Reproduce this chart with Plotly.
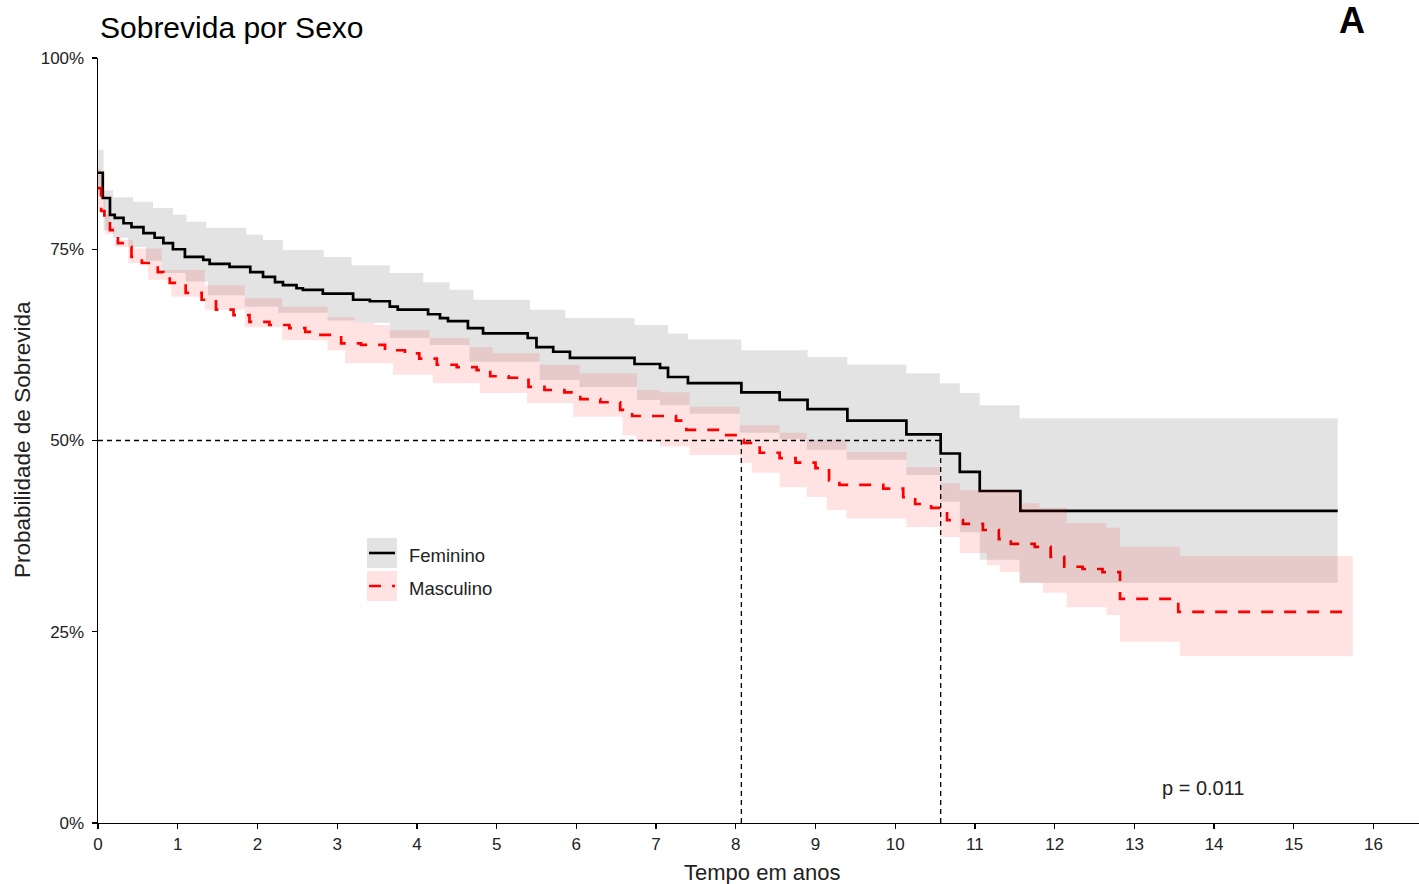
import plotly.graph_objects as go

# ---------------- data ----------------
# Kaplan-Meier step curves: start time of each step (years) and survival (%)
fem_t = [0, 0.06, 0.15, 0.21, 0.32, 0.42, 0.57, 0.71, 0.82, 0.94, 1.09, 1.32, 1.40, 1.65,
         1.91, 2.07, 2.22, 2.32, 2.49, 2.57, 2.82, 3.20, 3.41, 3.66, 3.76, 4.14, 4.29, 4.39,
         4.64, 4.83, 5.39, 5.50, 5.71, 5.92, 6.73, 7.05, 7.15, 7.40, 8.07, 8.55, 8.90, 9.40,
         10.14, 10.57, 10.81, 11.06, 11.57, 15.55]
fem_s = [85.0, 81.7, 79.5, 79.1, 78.4, 77.9, 77.1, 76.5, 75.8, 75.0, 74.0, 73.6, 73.1, 72.7,
         72.0, 71.4, 70.7, 70.3, 69.9, 69.7, 69.2, 68.4, 68.2, 67.5, 67.1, 66.5, 66.0, 65.6,
         64.7, 64.0, 63.4, 62.2, 61.6, 60.8, 60.0, 59.5, 58.3, 57.5, 56.3, 55.3, 54.1, 52.6,
         50.8, 48.3, 45.9, 43.4, 40.8, 40.8]

mas_t = [0, 0.04, 0.08, 0.15, 0.20, 0.25, 0.35, 0.42, 0.55, 0.75, 0.82, 0.90, 1.10, 1.30,
         1.48, 1.70, 1.90, 2.15, 2.40, 2.60, 2.75, 3.05, 3.30, 3.60, 3.85, 4.03, 4.25, 4.50,
         4.75, 4.92, 5.15, 5.40, 5.60, 5.85, 6.05, 6.30, 6.55, 6.70, 7.25, 7.38, 7.85, 8.02,
         8.10, 8.30, 8.55, 8.75, 9.00, 9.17, 9.30, 9.85, 10.10, 10.25, 10.45, 10.65, 10.85,
         11.10, 11.30, 11.45, 11.75, 11.95, 12.12, 12.35, 12.60, 12.82, 13.55, 15.67]
mas_s = [83.0, 80.0, 79.1, 77.5, 77.1, 75.8, 75.3, 74.0, 73.2, 72.0, 71.6, 70.6, 69.3, 68.4,
         67.1, 66.4, 65.5, 65.1, 64.7, 64.2, 63.8, 62.7, 62.5, 61.8, 61.4, 60.7, 59.9, 59.6,
         59.2, 58.4, 58.2, 57.0, 56.6, 56.3, 55.4, 55.0, 54.0, 53.2, 52.6, 51.4, 50.7, 50.1,
         49.7, 48.4, 47.7, 47.1, 46.4, 44.8, 44.2, 43.7, 42.6, 41.7, 41.2, 39.6, 39.1,
         38.3, 37.1, 36.5, 36.1, 34.8, 33.5, 33.2, 32.8, 29.3, 27.6, 27.6]

# 95% confidence bands
fem_up_t = [0, 0.07, 0.19, 0.44, 0.69, 0.94, 1.11, 1.36, 1.86, 2.07, 2.32, 2.83, 3.18, 3.66,
            4.08, 4.41, 4.71, 5.42, 5.86, 6.73, 7.15, 7.40, 8.07, 8.90, 9.40, 10.14, 10.56,
            10.81, 11.06, 11.56, 15.55]
fem_up_s = [88.0, 82.7, 81.8, 81.2, 80.4, 79.5, 78.6, 77.8, 76.9, 76.2, 74.9, 74.0, 72.9, 71.9,
            70.7, 69.7, 68.4, 67.1, 66.0, 65.1, 64.0, 63.2, 61.8, 60.9, 59.9, 58.8, 57.5,
            56.2, 54.6, 52.9, 52.9]
fem_lo_t = [0, 0.07, 0.19, 0.38, 0.60, 0.80, 1.10, 1.38, 1.84, 2.26, 2.88, 3.22, 3.66, 4.16,
            4.66, 5.54, 6.04, 6.76, 7.05, 7.42, 8.05, 8.55, 8.89, 9.39, 10.14, 10.56, 10.81,
            11.06, 11.56, 15.55]
fem_lo_s = [82.0, 77.5, 76.5, 75.3, 73.5, 71.9, 70.8, 69.0, 67.5, 66.7, 65.7, 65.4, 63.4, 62.5,
            60.3, 57.9, 57.0, 55.3, 54.6, 53.5, 51.0, 50.2, 48.8, 47.5, 45.5, 42.0, 38.0,
            34.4, 31.4, 31.4]

mas_up_t = [0, 0.04, 0.09, 0.15, 0.21, 0.44, 0.80, 1.34, 1.84, 2.31, 2.88, 3.22, 3.46, 3.66,
            4.16, 4.66, 4.95, 5.54, 6.04, 6.76, 7.05, 7.42, 8.05, 8.55, 8.89, 9.39, 10.14,
            10.56, 10.81, 11.56, 11.81, 12.15, 12.65, 12.82, 13.57, 15.74]
mas_up_s = [85.5, 82.0, 79.5, 77.9, 76.2, 75.1, 72.3, 70.3, 68.6, 67.5, 66.1, 65.4, 65.1, 64.4,
            63.4, 62.2, 61.4, 59.9, 58.8, 56.6, 56.3, 54.4, 52.0, 51.0, 50.1, 48.5, 46.5,
            44.4, 43.5, 41.8, 41.2, 39.2, 38.6, 36.1, 34.9, 34.9]
mas_lo_t = [0, 0.09, 0.21, 0.38, 0.63, 0.92, 1.34, 1.84, 2.31, 2.88, 3.10, 3.70, 4.20, 4.79,
            5.38, 5.96, 6.58, 6.75, 7.05, 7.42, 8.05, 8.20, 8.55, 8.89, 9.14, 9.39, 10.14,
            10.56, 10.81, 11.15, 11.31, 11.56, 11.85, 12.15, 12.65, 12.82, 13.57, 15.74]
mas_lo_s = [80.0, 77.0, 75.3, 73.2, 71.0, 68.8, 67.1, 64.8, 63.1, 61.8, 60.1, 58.6, 57.5, 56.2,
            54.9, 53.1, 50.7, 49.8, 49.2, 48.1, 47.1, 45.8, 43.9, 42.6, 40.9, 39.8, 38.7,
            37.4, 35.3, 33.7, 32.8, 31.4, 30.1, 28.2, 27.2, 23.7, 21.8, 21.8]

# median survival times (years) and the 50% reference level
medians = [8.07, 10.57]
median_level = 50

groups = ["Feminino", "Masculino"]
p_value_text = "p = 0.011"
x_ticks = list(range(0, 17))
y_ticks = [0, 25, 50, 75, 100]
y_tick_labels = ["0%", "25%", "50%", "75%", "100%"]

# ---------------- figure ----------------
FONT = "Liberation Sans, Arial, sans-serif"
TXT = "#222222"
fig = go.Figure()

# survival step lines
fig.add_trace(go.Scatter(x=fem_t, y=fem_s, mode="lines", line=dict(color="black", width=2.7, shape="hv"),
                         name=groups[0], showlegend=False, hoverinfo="skip"))
fig.add_trace(go.Scatter(x=mas_t, y=mas_s, mode="lines",
                         line=dict(color="#ff0000", width=2.7, shape="hv", dash="12px,11px"),
                         name=groups[1], showlegend=False, hoverinfo="skip"))


def step_polygon(up_t, up_s, lo_t, lo_s):
    xs, ys = [], []
    for i in range(len(up_t)):
        xs.append(up_t[i]); ys.append(up_s[i])
        if i + 1 < len(up_t):
            xs.append(up_t[i + 1]); ys.append(up_s[i])
    lx, ly = [], []
    for i in range(len(lo_t)):
        lx.append(lo_t[i]); ly.append(lo_s[i])
        if i + 1 < len(lo_t):
            lx.append(lo_t[i + 1]); ly.append(lo_s[i])
    return xs + lx[::-1], ys + ly[::-1]


# confidence ribbons drawn over the lines (semi-transparent)
for up_t, up_s, lo_t, lo_s, col in [
    (fem_up_t, fem_up_s, fem_lo_t, fem_lo_s, "rgba(0,0,0,0.11)"),
    (mas_up_t, mas_up_s, mas_lo_t, mas_lo_s, "rgba(255,0,0,0.11)"),
]:
    xs, ys = step_polygon(up_t, up_s, lo_t, lo_s)
    fig.add_trace(go.Scatter(x=xs, y=ys, mode="lines", fill="toself", fillcolor=col,
                             line=dict(width=0, color=col), showlegend=False, hoverinfo="skip"))

# median reference lines
ref = dict(color="black", width=1.3, dash="5px,4px")
fig.add_trace(go.Scatter(x=[0, max(medians)], y=[median_level, median_level], mode="lines",
                         line=ref, showlegend=False, hoverinfo="skip"))
for m in medians:
    fig.add_trace(go.Scatter(x=[m, m], y=[0, median_level], mode="lines",
                             line=ref, showlegend=False, hoverinfo="skip"))

# ---------------- layout ----------------
W, H = 1419, 884
L, R, T, B = 98, 0, 58, 61
pw, ph = W - L - R, H - T - B


def px(xp):
    return (xp - L) / pw


def py(yp):
    return (H - B - yp) / ph


fig.update_layout(
    width=W, height=H,
    margin=dict(l=L, r=R, t=T, b=B, pad=0),
    paper_bgcolor="white", plot_bgcolor="white",
    font=dict(family=FONT, color=TXT),
    showlegend=False,
    xaxis=dict(range=[0, 16.57], tickvals=x_ticks, ticktext=[str(v) for v in x_ticks],
               showline=True, linecolor="black", linewidth=1.4, ticks="outside", ticklen=5,
               tickwidth=1.3, tickcolor="black", showgrid=False, zeroline=False,
               tickfont=dict(size=17, color=TXT, family=FONT), ticklabelstandoff=0),
    yaxis=dict(range=[0, 100], tickvals=y_ticks, ticktext=y_tick_labels,
               showline=True, linecolor="black", linewidth=1.4, ticks="outside", ticklen=5,
               tickwidth=1.3, tickcolor="black", showgrid=False, zeroline=False,
               tickfont=dict(size=17, color=TXT, family=FONT), ticklabelstandoff=4),
)

ann = []
ann.append(dict(text="Sobrevida por Sexo", x=0, y=py(28), xref="paper", yref="paper",
                xanchor="left", yanchor="middle", showarrow=False,
                font=dict(size=30, color="black", family=FONT)))
ann.append(dict(text="<b>A</b>", x=px(1352), y=py(21), xref="paper", yref="paper",
                xanchor="center", yanchor="middle", showarrow=False,
                font=dict(size=36, color="black", family=FONT)))
ann.append(dict(text="Probabilidade de Sobrevida", x=px(22), y=py(440), xref="paper", yref="paper",
                xanchor="center", yanchor="middle", textangle=-90, showarrow=False,
                font=dict(size=22.5, color=TXT, family=FONT)))
ann.append(dict(text="Tempo em anos", x=px(762), y=py(872), xref="paper", yref="paper",
                xanchor="center", yanchor="middle", showarrow=False,
                font=dict(size=22, color=TXT, family=FONT)))
ann.append(dict(text=p_value_text, x=px(1203), y=py(788), xref="paper", yref="paper",
                xanchor="center", yanchor="middle", showarrow=False,
                font=dict(size=20, color=TXT, family=FONT)))
ann.append(dict(text=groups[0], x=px(407), y=py(555), xref="paper", yref="paper",
                xanchor="left", yanchor="middle", showarrow=False,
                font=dict(size=18.5, color=TXT, family=FONT)))
ann.append(dict(text=groups[1], x=px(407), y=py(588), xref="paper", yref="paper",
                xanchor="left", yanchor="middle", showarrow=False,
                font=dict(size=18.5, color=TXT, family=FONT)))
fig.update_layout(annotations=ann)

shapes = [
    dict(type="rect", xref="paper", yref="paper", x0=px(367), x1=px(397), y0=py(568), y1=py(538),
         fillcolor="rgba(0,0,0,0.11)", line=dict(width=0), layer="above"),
    dict(type="rect", xref="paper", yref="paper", x0=px(367), x1=px(397), y0=py(601), y1=py(571),
         fillcolor="rgba(255,0,0,0.11)", line=dict(width=0), layer="above"),
    dict(type="line", xref="paper", yref="paper", x0=px(369), x1=px(395), y0=py(553), y1=py(553),
         line=dict(color="black", width=2.6), layer="above"),
    dict(type="line", xref="paper", yref="paper", x0=px(369), x1=px(395), y0=py(586), y1=py(586),
         line=dict(color="#ff0000", width=2.6, dash="12px,11px"), layer="above"),
]
fig.update_layout(shapes=shapes)

fig.write_html("out.html",
               config={"displayModeBar": False, "staticPlot": True},
               post_script="document.body.style.margin='0';document.body.style.padding='0';"
                           "document.body.style.overflow='hidden';")
